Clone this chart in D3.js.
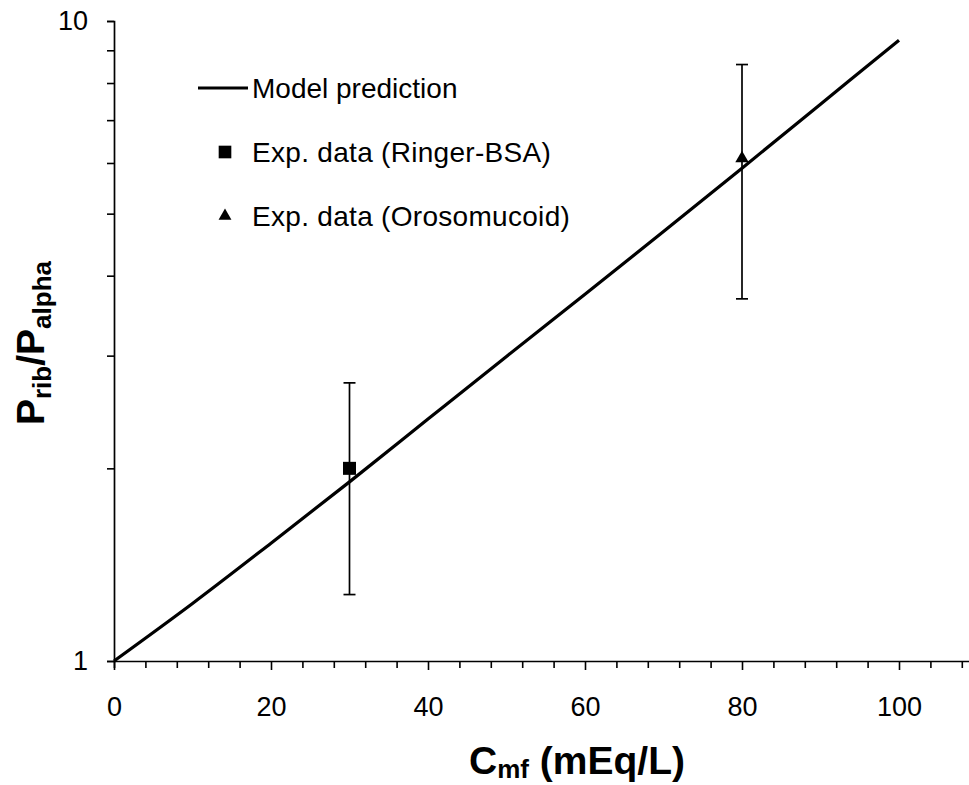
<!DOCTYPE html>
<html>
<head>
<meta charset="utf-8">
<script src="https://cdn.jsdelivr.net/npm/d3@7"></script>
<style>
  html, body { margin: 0; padding: 0; background: #fff; }
  svg { display: block; }
  text { font-family: "Liberation Sans", Arial, sans-serif; fill: #000; }
</style>
</head>
<body>
<svg id="chart" width="969" height="785"></svg>
<script>
// Model prediction curve: C_mf (mEq/L) vs P_rib/P_alpha
const modelC     = [0, 10, 20, 30, 40, 50, 60, 70, 80, 90, 100];
const modelRatio = [1.00, 1.23, 1.528, 1.905, 2.388, 2.992, 3.741, 4.688, 5.888, 7.413, 9.333];

// Experimental data (value with lower / upper error limits)
const ringerC = [30];
const ringerRatio = [2.0];
const ringerLow = [1.27];
const ringerHigh = [2.72];

const oroC = [80];
const oroRatio = [6.1];
const oroLow = [3.68];
const oroHigh = [8.55];

// Axis ticks
const xMinorTicks = d3.range(0, 110, 4);
const xLabelTicks = [0, 20, 40, 60, 80, 100];
const yTicks = [1, 2, 3, 4, 5, 6, 7, 8, 9, 10];
const yLabelTicks = [1, 10];

const legendLabels = ["Model prediction", "Exp. data (Ringer-BSA)", "Exp. data (Orosomucoid)"];

const svg = d3.select("#chart");

const x = d3.scaleLinear().domain([0, 110]).range([114, 977.5]);
const y = d3.scaleLog().domain([1, 10]).range([661, 21]);

const FONT = "'Liberation Sans', Arial, sans-serif";

// X axis
const xAxis = svg.append("g")
  .attr("transform", `translate(0,${y(1)})`)
  .call(d3.axisBottom(x)
    .tickValues(xMinorTicks)
    .tickSizeOuter(0)
    .tickSize(7)
    .tickPadding(29)
    .tickFormat(d => xLabelTicks.includes(d) ? d : ""));
xAxis.select(".domain").attr("stroke", "#000").attr("stroke-width", 1.7);
xAxis.selectAll(".tick line")
  .attr("stroke", "#000").attr("stroke-width", 1.6)
  .attr("y2", d => xLabelTicks.includes(d) ? 9 : 7);
xAxis.selectAll(".tick text")
  .attr("font-size", 27)
  .attr("font-family", FONT)
  .attr("fill", "#000");

// Y axis (log)
const yAxis = svg.append("g")
  .attr("transform", `translate(${x(0)},0)`)
  .call(d3.axisLeft(y)
    .tickValues(yTicks)
    .tickSizeOuter(0)
    .tickSize(7)
    .tickPadding(19)
    .tickFormat(d => yLabelTicks.includes(d) ? d : ""));
yAxis.select(".domain").attr("stroke", "#000").attr("stroke-width", 1.7);
yAxis.selectAll(".tick line").attr("stroke", "#000").attr("stroke-width", 1.6);
yAxis.selectAll(".tick text")
  .attr("font-size", 27)
  .attr("font-family", FONT)
  .attr("fill", "#000");

// Model curve
const model = modelC.map((c, i) => ({ c, r: modelRatio[i] }));
svg.append("path")
  .datum(model)
  .attr("fill", "none")
  .attr("stroke", "#000")
  .attr("stroke-width", 3.2)
  .attr("stroke-linejoin", "round")
  .attr("d", d3.line().x(d => x(d.c)).y(d => y(d.r)).curve(d3.curveMonotoneX));

// Error bars
function errorBars(cs, lows, highs) {
  const g = svg.append("g").attr("stroke", "#000").attr("stroke-width", 1.7);
  cs.forEach((c, i) => {
    const cx = x(c);
    g.append("line").attr("x1", cx).attr("x2", cx).attr("y1", y(lows[i])).attr("y2", y(highs[i]));
    g.append("line").attr("x1", cx - 6).attr("x2", cx + 6).attr("y1", y(lows[i])).attr("y2", y(lows[i]));
    g.append("line").attr("x1", cx - 6).attr("x2", cx + 6).attr("y1", y(highs[i])).attr("y2", y(highs[i]));
  });
}
errorBars(ringerC, ringerLow, ringerHigh);
errorBars(oroC, oroLow, oroHigh);

const squareSym = d3.symbol().type(d3.symbolSquare).size(169);
const triSym = d3.symbol().type(d3.symbolTriangle).size(78);

svg.append("g").selectAll("path")
  .data(ringerC.map((c, i) => ({ c, r: ringerRatio[i] })))
  .join("path")
  .attr("d", squareSym)
  .attr("transform", d => `translate(${x(d.c)},${y(d.r)})`)
  .attr("fill", "#000");

svg.append("g").selectAll("path")
  .data(oroC.map((c, i) => ({ c, r: oroRatio[i] })))
  .join("path")
  .attr("d", triSym)
  .attr("transform", d => `translate(${x(d.c)},${y(d.r)})`)
  .attr("fill", "#000");

// Legend
const legend = svg.append("g");
const rowY = [88, 152, 216];
legend.append("line")
  .attr("x1", 198).attr("x2", 248).attr("y1", rowY[0]).attr("y2", rowY[0])
  .attr("stroke", "#000").attr("stroke-width", 3);
legend.append("path").attr("d", d3.symbol().type(d3.symbolSquare).size(160))
  .attr("transform", `translate(225,${rowY[1]})`).attr("fill", "#000");
legend.append("path").attr("d", d3.symbol().type(d3.symbolTriangle).size(72))
  .attr("transform", `translate(225,${rowY[2]})`).attr("fill", "#000");
legend.selectAll("text.lbl")
  .data(legendLabels)
  .join("text")
  .attr("class", "lbl")
  .attr("x", 252)
  .attr("y", (d, i) => rowY[i])
  .attr("dy", "0.35em")
  .attr("font-size", 28)
  .attr("letter-spacing", (d, i) => i === 0 ? 0 : 0.3)
  .text(d => d);

// X axis title
const xt = svg.append("text")
  .attr("x", 577).attr("y", 774)
  .attr("text-anchor", "middle")
  .attr("font-size", 39)
  .attr("font-weight", "bold");
xt.append("tspan").text("C");
xt.append("tspan").attr("font-size", 26).attr("dy", 4).text("mf");
xt.append("tspan").attr("dy", -4).text(" (mEq/L)");

// Y axis title
const yt = svg.append("text")
  .attr("transform", "translate(44,343) rotate(-90)")
  .attr("text-anchor", "middle")
  .attr("font-size", 39)
  .attr("font-weight", "bold");
yt.append("tspan").text("P");
yt.append("tspan").attr("font-size", 26).attr("dy", 7).text("rib");
yt.append("tspan").attr("dy", -7).text("/P");
yt.append("tspan").attr("font-size", 26).attr("dy", 7).text("alpha");
</script>
</body>
</html>
